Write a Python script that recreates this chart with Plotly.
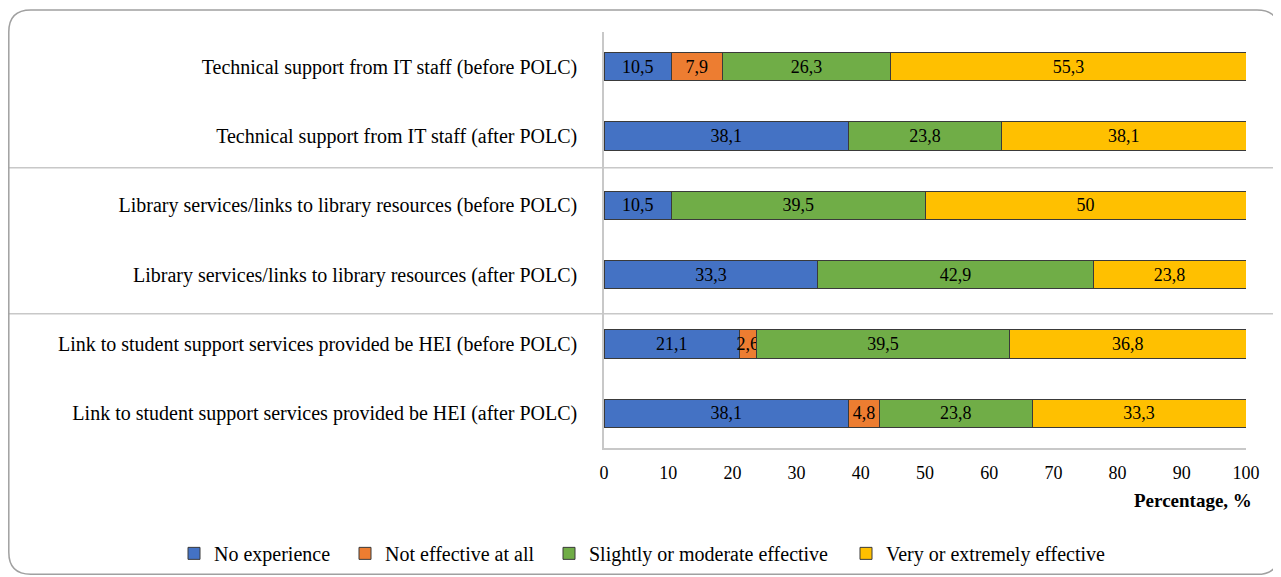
import plotly.graph_objects as go

categories = [
    "Technical support from IT staff (before POLC)",
    "Technical support from IT staff (after POLC)",
    "Library services/links to library resources (before POLC)",
    "Library services/links to library resources (after POLC)",
    "Link to student support services provided be HEI (before POLC)",
    "Link to student support services provided be HEI (after POLC)",
]
series_names = ["No experience", "Not effective at all",
                "Slightly or moderate effective", "Very or extremely effective"]
no_experience = [10.5, 38.1, 10.5, 33.3, 21.1, 38.1]
not_effective = [7.9, 0, 0, 0, 2.6, 4.8]
slightly_moderate = [26.3, 23.8, 39.5, 42.9, 39.5, 23.8]
very_extremely = [55.3, 38.1, 50, 23.8, 36.8, 33.3]
x_ticks = [0, 10, 20, 30, 40, 50, 60, 70, 80, 90, 100]

colors = ["#4472C4", "#ED7D31", "#70AD47", "#FFC000"]
values = [no_experience, not_effective, slightly_moderate, very_extremely]
legend_ids = ["legend", "legend2", "legend3", "legend4"]
legend_px = [174, 345, 549, 846]

FONT = "Liberation Serif"
OFF = 8  # page body margin
W, H = 1281 - OFF, 577 - OFF
L, R, T, B = 604 - OFF, 1246 - OFF, 32 - OFF, 448.5 - OFF


def fmt(v):
    if v == 0:
        return ""
    if float(v).is_integer():
        return str(int(v))
    return str(v).replace(".", ",")


fig = go.Figure()
for name, vals, col, lg in zip(series_names, values, colors, legend_ids):
    fig.add_trace(go.Bar(
        y=categories, x=[v if v else None for v in vals], name=name,
        orientation="h", marker=dict(color=col, line=dict(color="#3a3a3a", width=1)),
        text=[fmt(v) for v in vals], textposition="inside", insidetextanchor="middle",
        constraintext="none", textangle=0,
        textfont=dict(family=FONT, size=18, color="#000000"),
        width=0.41, hoverinfo="skip", legend=lg,
    ))


def px(x):
    # reference pixel x -> paper
    return (x - OFF - L) / (R - L)


def py(y):
    return (B - (y - OFF)) / (B - T)


shapes = []
for ypix in [168, 314]:
    shapes.append(dict(type="line", xref="paper", yref="paper",
                       x0=px(8.5), x1=px(1281), y0=py(ypix), y1=py(ypix),
                       line=dict(color="#c8c8c8", width=1.5), layer="below"))

# rounded outer border
x0, x1, y0, y1, r = 8.8, 1279, 10, 575, 22
path = (f"M {px(x0+r)} {py(y0)} L {px(x1-r)} {py(y0)} Q {px(x1)} {py(y0)} {px(x1)} {py(y0+r)} "
        f"L {px(x1)} {py(y1-r)} Q {px(x1)} {py(y1)} {px(x1-r)} {py(y1)} "
        f"L {px(x0+r)} {py(y1)} Q {px(x0)} {py(y1)} {px(x0)} {py(y1-r)} "
        f"L {px(x0)} {py(y0+r)} Q {px(x0)} {py(y0)} {px(x0+r)} {py(y0)} Z")
shapes.append(dict(type="path", xref="paper", yref="paper", path=path,
                   line=dict(color="#a0a0a0", width=1.5), layer="below"))

legends = {}
for lg, lx in zip(legend_ids, legend_px):
    legends[lg] = dict(orientation="h", xref="paper", yref="paper",
                       x=px(lx), xanchor="left", y=py(554), yanchor="middle",
                       bgcolor="rgba(0,0,0,0)",
                       font=dict(family=FONT, size=20, color="#000000"),
                       itemwidth=30)

fig.update_layout(
    width=W, height=H,
    margin=dict(l=L, r=W - R, t=T, b=H - B, autoexpand=False),
    paper_bgcolor="white", plot_bgcolor="white",
    barmode="stack",
    font=dict(family=FONT, size=20, color="#000000"),
    xaxis=dict(range=[0, 100], tickvals=x_ticks, showgrid=False, zeroline=False,
               showline=True, linecolor="#c8c8c8", linewidth=1.5,
               ticks="", ticklabelstandoff=8,
               tickfont=dict(family=FONT, size=18, color="#000000")),
    yaxis=dict(autorange="reversed", showgrid=False, zeroline=False,
               showline=True, linecolor="#c8c8c8", linewidth=1.5,
               ticks="", ticklabelstandoff=21,
               tickfont=dict(family=FONT, size=20, color="#000000")),
    shapes=shapes,
    annotations=[dict(text="<b>Percentage, %</b>", xref="paper", yref="paper",
                      x=px(1254), y=py(501), xanchor="right", yanchor="middle",
                      showarrow=False, font=dict(family=FONT, size=19, color="#000000"))],
    showlegend=True,
    **legends,
)

fig.write_html("out.html")
